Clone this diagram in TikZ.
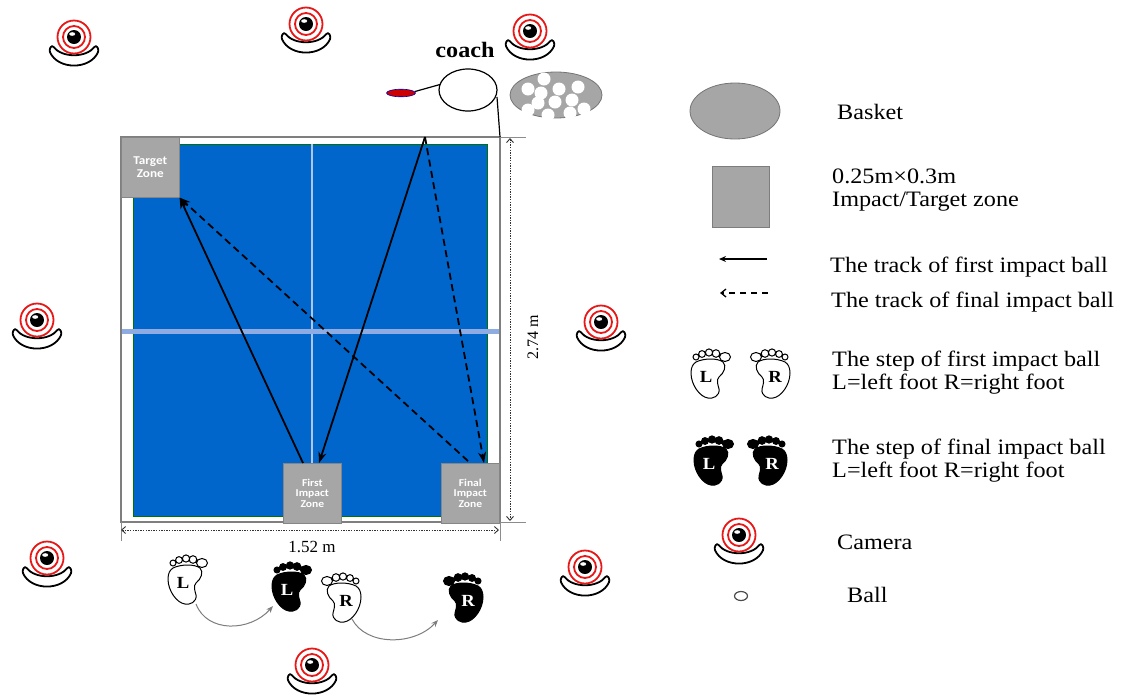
\documentclass[tikz,border=0pt]{standalone}
\usepackage{fontspec}
\setmainfont{Liberation Serif}[FakeStretch=1.1]
\newfontfamily\dimfont{Liberation Serif}
\newfontfamily\zonefont{Carlito}[FakeStretch=1.1]
\usetikzlibrary{arrows.meta}

\definecolor{tableblue}{RGB}{0,102,204}
\definecolor{netblue}{RGB}{143,172,226}
\definecolor{zonegray}{RGB}{166,166,166}
\definecolor{framegray}{RGB}{127,127,127}
\definecolor{paddlered}{RGB}{204,0,0}
\definecolor{curvegray}{RGB}{125,125,125}
\definecolor{ringred}{RGB}{232,24,24}

\tikzset{
  legendtext/.style={anchor=base west, inner sep=0, align=left,
    font=\fontsize{22}{23}\selectfont},
  zone/.style={fill=zonegray, draw=zonegray!80!black, line width=0.6,
    text=white, align=center, inner sep=0, anchor=north west,
    minimum width=58, minimum height=60,
    font=\zonefont\bfseries\fontsize{10.5}{10.8}\selectfont},
  track/.style={line width=1.8, -{Stealth[length=11pt,width=8pt]}},
  trackdash/.style={track, dash pattern=on 7pt off 4.5pt},
  dimline/.style={line width=0.9, draw=black!80, dash pattern=on 1.4pt off 1.2pt,
    {Straight Barb[length=4pt,width=7pt]}-{Straight Barb[length=4pt,width=7pt]}},
  extline/.style={draw=black!45, line width=0.7},
  stepcurve/.style={draw=curvegray, line width=1, -{Stealth[length=7pt,width=5.5pt]}},
  footletter/.style={inner sep=0, font=\bfseries\fontsize{17}{17}\selectfont},
  pics/camera/.style={code={
    \draw[line width=1.8, fill=white, rounded corners=2.5]
      (-22,8) .. controls (-12,21) and (12,21) .. (22,8) -- (25,13)
      .. controls (16,33) and (-16,33) .. (-25,13) -- cycle;
    \draw[ringred, line width=1.8, fill=white] (0,0) circle (16.5pt);
    \draw[ringred, line width=1.8] (0,0) circle (11pt);
    \fill[black] (0,0) circle (7pt);
    \fill[white] (-1.8,-3) ellipse (3pt and 1.8pt);
  }},
  pics/foot/.style n args={4}{code={
    \begin{scope}[xscale=#1]
      \draw[line width=1, fill=#2]
        (-14,-11) .. controls (-6,-15) and (8,-15) .. (13,-11)
        .. controls (17,-7) and (14,0) .. (9,4)
        .. controls (6,7) and (8,12) .. (9,16)
        .. controls (10,23) and (3,26) .. (-2,25)
        .. controls (-10,24) and (-19,12) .. (-19,0)
        .. controls (-19,-6) and (-17,-9) .. (-14,-11) -- cycle;
      \draw[line width=1, fill=#2]
        (-14,-16) circle (3pt) (-8,-19) circle (3.4pt) (-1,-20.5) circle (3.6pt)
        (6,-19.5) circle (3.8pt) (15,-16) ellipse (5.5pt and 4.5pt);
    \end{scope}
    \node[footletter, text=#3] (-lbl) at ({-4*#1},4) {#4};
  }},
}

\begin{document}
\begin{tikzpicture}[x=1pt,y=-1pt]
\useasboundingbox (0,0) rectangle (1123,697);

% ---------- table ----------
\draw[framegray, line width=1.5, fill=white] (121,137) rectangle (500,522);
\draw[fill=tableblue, draw=green!45!black, line width=0.8] (133,144) rectangle (487,516);
\draw[draw=netblue!70!white, line width=1.3] (312,144) -- (312,516);
\draw[netblue, line width=5] (122,331) -- (499,331);

\node[zone, font=\zonefont\bfseries\fontsize{12}{13}\selectfont] (tz) at (121,137) {Target\\Zone};
\node[zone] (fz) at (283,463) {First\\Impact\\Zone};
\node[zone] (nz) at (441,463) {Final\\Impact\\Zone};

% ball tracks
\coordinate (apex) at (425,137);
\coordinate (fzA) at (303,463);
\coordinate (fzB) at (319,463);
\coordinate (nzA) at (468,461);
\coordinate (nzB) at (484,463);
\draw[track] (fzA) -- (tz.south east);
\draw[track] (apex) -- (fzB);
\draw[trackdash] (apex) -- (nzB);
\draw[trackdash] (nzA) -- (tz.south east);

% dimensions
\draw[extline] (121,522) -- (121,541);
\draw[extline] (500,522) -- (500,541);
\draw[extline] (500,137) -- (526,137);
\draw[extline] (500,522) -- (526,522);
\coordinate (dimL) at (121,530);
\coordinate (dimR) at (499,530);
\coordinate (dimT) at (510,138);
\coordinate (dimB) at (510,521);
\draw[dimline] (dimL) -- (dimR);
\draw[dimline] (dimT) -- (dimB);
\node[inner sep=0, anchor=base, font=\dimfont\fontsize{17}{17}\selectfont] (wlab) at (312,552) {1.52 m};
\node[inner sep=0, rotate=90, font=\dimfont\fontsize{16}{16}\selectfont] (llab) at (533,337) {2.74 m};

% ---------- coach, racket and basket ----------
\node[inner sep=0, anchor=base, font=\bfseries\fontsize{22}{22}\selectfont] (coach) at (465,57) {coach};
\draw[line width=1.2] (468,90) ellipse (29pt and 21pt);
\draw[line width=1.2] (497,97) -- (500,137);
\draw[line width=1.2] (415,91.5) -- (440,84.5);
\draw[fill=paddlered, draw=blue!70!black, line width=0.6] (401,93) ellipse (14.5pt and 3.8pt);
\draw[fill=zonegray, draw=zonegray!70!black, line width=0.8] (556,95) ellipse (46pt and 23pt);
\foreach \bx/\by in {544/79, 528/89, 541/93, 559/89, 578/87, 572/100,
                     555/102, 538/103, 528/110, 548/115, 570/113, 584/109}
  \fill[white] (\bx,\by) circle (6.5pt);

% ---------- cameras ----------
\pic at (74,37) {camera};
\pic at (306,24) {camera};
\pic at (530,31) {camera};
\pic at (37,320) {camera};
\pic at (601,322) {camera};
\pic at (47,558) {camera};
\pic at (585,567) {camera};
\pic at (312,665) {camera};

% ---------- steps below the table ----------
\pic (sw1) at (187,579) {foot={1}{white}{black}{L}};
\pic (sb1) at (291,586) {foot={1}{black}{white}{L}};
\pic (sw2) at (342,597) {foot={-1}{white}{black}{R}};
\pic (sb2) at (464,597) {foot={-1}{black}{white}{R}};
\coordinate (c1s) at (196,604);
\coordinate (c1e) at (273,606);
\coordinate (c2s) at (352,619);
\coordinate (c2e) at (438,620);
\draw[stepcurve] (c1s) .. controls (207,633) and (250,632) .. (c1e);
\draw[stepcurve] (c2s) .. controls (366,646) and (414,646) .. (c2e);

% ---------- legend ----------
\draw[fill=zonegray, draw=zonegray!70!black, line width=0.8] (735,111) ellipse (45pt and 28pt);
\node[legendtext] (lBasket) at (837,119) {Basket};

\draw[fill=zonegray, draw=zonegray!75!black, line width=0.8] (712,166) rectangle (769,227);
\node[legendtext] (lZone) at (832,206) {0.25m×0.3m\\Impact/Target zone};

\coordinate (la1) at (767,259);
\coordinate (la2) at (719,259);
\draw[line width=1.3, -{Stealth[length=7pt,width=6pt]}] (la1) -- (la2);
\node[legendtext] (lTrack1) at (830,272) {The track of first impact ball};

\coordinate (lb1) at (768,293);
\coordinate (lb2) at (720,293);
\draw[line width=1.3, dash pattern=on 6pt off 5pt, -{Straight Barb[length=5pt,width=8pt]}] (lb1) -- (lb2);
\node[legendtext] (lTrack2) at (831,307) {The track of final impact ball};

\pic (lw1) at (710,373) {foot={1}{white}{black}{L}};
\pic (lw2) at (771,373) {foot={-1}{white}{black}{R}};
\node[legendtext] (lStep1) at (832,389) {The step of first impact ball\\L=left foot R=right foot};

\pic (lk1) at (713,460) {foot={1}{black}{white}{L}};
\pic (lk2) at (768,460) {foot={-1}{black}{white}{R}};
\node[legendtext] (lStep2) at (832,477) {The step of final impact ball\\L=left foot R=right foot};

\pic at (739,535) {camera};
\node[legendtext] (lCamera) at (837,549) {Camera};

\draw[draw=black!70, line width=1.2] (741,596) ellipse (6.5pt and 4.5pt);
\node[legendtext] (lBall) at (847,602) {Ball};
\end{tikzpicture}
\end{document}
